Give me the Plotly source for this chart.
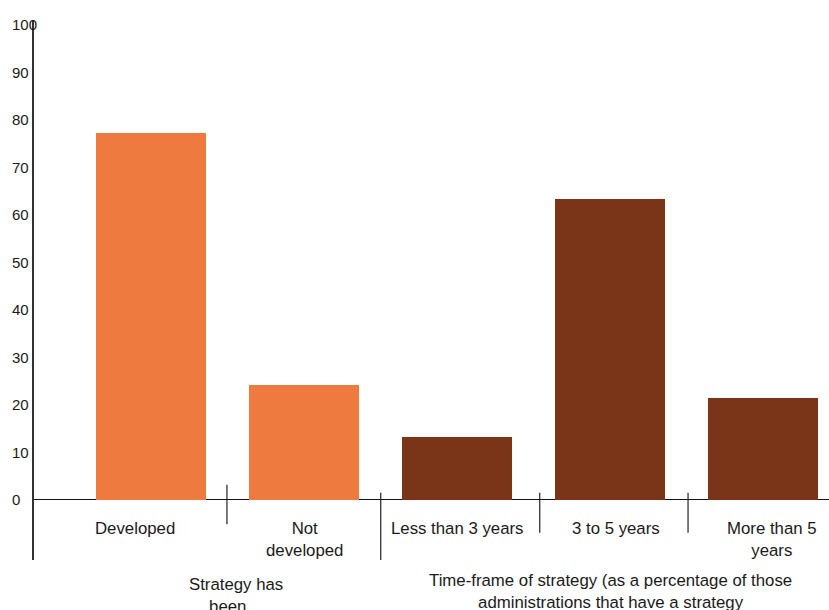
import plotly.graph_objects as go

# Survey results: share of administrations (%)
categories = ["Developed", "Not developed", "Less than 3 years", "3 to 5 years", "More than 5 years"]
category_labels = ["Developed", "Not<br>developed", "Less than 3 years", "3 to 5 years", "More than 5<br>years"]
values = [77.2, 24.1, 13.2, 63.3, 21.3]
groups = ["status", "status", "timeframe", "timeframe", "timeframe"]
group_titles = ["Strategy has<br>been…",
                "Time-frame of strategy (as a percentage of those<br>administrations that have a strategy"]
y_ticks = [0, 10, 20, 30, 40, 50, 60, 70, 80, 90, 100]

ORANGE = "#EE7A3F"
BROWN = "#7A3418"
colors = [ORANGE if g == "status" else BROWN for g in groups]
FONT = "Liberation Sans, Arial, Helvetica, sans-serif"
TEXT = "#1a1a1a"

W, H = 829, 610
M_L, M_R, M_T, M_B = 34, 0, 21, 50
plot_w = W - M_L - M_R
plot_h = H - M_T - M_B

x_idx = list(range(len(categories)))

fig = go.Figure(go.Bar(
    x=x_idx,
    y=values,
    width=0.72,
    marker=dict(color=colors, line=dict(width=0)),
    hoverinfo="skip",
))

annotations = []

# Y tick labels, left-aligned at the outer edge
for t in y_ticks:
    annotations.append(dict(
        x=-24 / plot_w, xref="paper", xanchor="left",
        y=t, yref="y", yanchor="middle",
        text=str(t), showarrow=False,
        font=dict(family=FONT, size=15, color=TEXT),
    ))

# Category labels below the baseline
label_shift = [-0.108, 0.0, 0.0, 0.04, 0.06]
for i, lab in enumerate(category_labels):
    annotations.append(dict(
        x=i + label_shift[i], xref="x", xanchor="center",
        y=-3.6, yref="y", yanchor="top",
        text=lab, showarrow=False, align="center",
        font=dict(family=FONT, size=16.8, color=TEXT),
    ))

# Group titles, below the plot area
group_x = [0.552, 3.0]
group_drop = [13, 9]  # px below the plot area
for gx, drop, title in zip(group_x, group_drop, group_titles):
    annotations.append(dict(
        x=gx, xref="x", xanchor="center",
        y=-drop / plot_h, yref="paper", yanchor="top",
        text=title, showarrow=False, align="center",
        font=dict(family=FONT, size=16.8, color=TEXT),
    ))

# Category separators below the axis
separators = [
    (0.494, 3.1, -5.2),
    (1.5, 1.4, -12.75),
    (2.54, 1.4, -7.0),
    (3.51, 1.4, -7.0),
]
shapes = []
for sx, y0, y1 in separators:
    shapes.append(dict(
        type="line", xref="x", yref="y",
        x0=sx, x1=sx, y0=y0, y1=y1,
        line=dict(color="#222222", width=1.2),
    ))

fig.update_layout(
    width=W, height=H,
    margin=dict(l=M_L, r=M_R, t=M_T, b=M_B),
    paper_bgcolor="white",
    plot_bgcolor="white",
    showlegend=False,
    bargap=0,
    annotations=annotations,
    shapes=shapes,
    xaxis=dict(
        range=[-0.768, 4.432],
        showticklabels=False, showgrid=False, zeroline=False,
        showline=False, ticks="",
    ),
    yaxis=dict(
        range=[-12.75, 100.84],
        tickvals=y_ticks,
        showticklabels=False, showgrid=False,
        zeroline=True, zerolinecolor="#111111", zerolinewidth=1.2,
        showline=True, linecolor="#333333", linewidth=1.5,
        ticks="",
    ),
)

fig.write_html("out.html")
